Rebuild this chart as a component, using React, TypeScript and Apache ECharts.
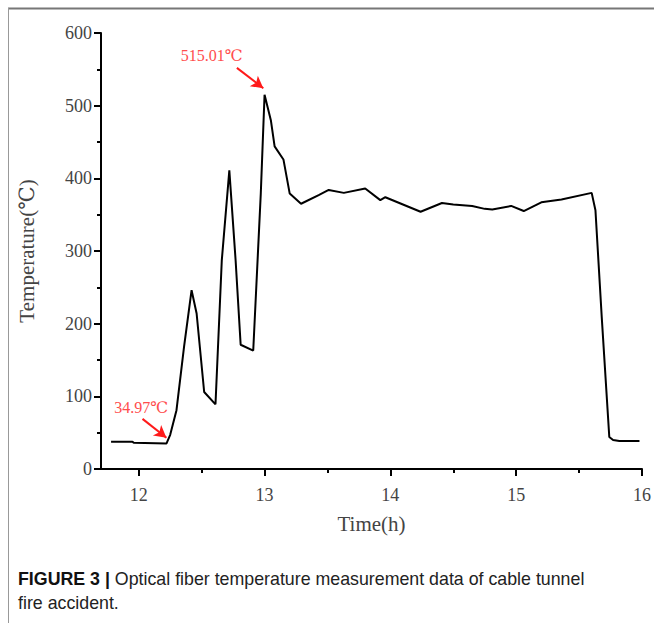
import React, { useEffect, useRef } from "react";
import * as echarts from "echarts";

const times = [11.78, 11.95, 11.96, 12.22, 12.25, 12.3, 12.36, 12.42, 12.46, 12.52, 12.61, 12.66, 12.72, 12.77, 12.81, 12.91, 12.97, 13.0, 13.05, 13.08, 13.15, 13.2, 13.29, 13.43, 13.51, 13.63, 13.8, 13.92, 13.96, 14.24, 14.41, 14.5, 14.65, 14.75, 14.81, 14.96, 15.06, 15.2, 15.36, 15.6, 15.63, 15.68, 15.74, 15.77, 15.82, 15.98];
const temps = [37.6, 37.5, 36, 34.97, 47, 81, 168, 246, 214, 106, 89, 287, 411, 287, 171, 163, 379, 515.01, 480, 444, 426, 379, 365, 377, 384, 380, 386, 370, 374, 354, 366, 364, 362, 358, 357, 362, 355, 367, 371, 380, 356, 209, 44, 40, 38.5, 38.5];

const xMajorTicks = [12, 13, 14, 15, 16];
const xMinorTicks = [12.5, 13.5, 14.5, 15.5];

const peakLabel = "515.01℃";
const lowLabel = "34.97℃";
const peakArrow = [[12.78, 552], [12.99, 524]];
const lowArrow = [[12.03, 69], [12.22, 43]];
const peakTextAt = [12.58, 569];
const lowTextAt = [12.02, 84];

const xName = "Time(h)";
const yName = "Temperature(℃)";
const captionBold = "FIGURE 3 |";
const captionLine1 = " Optical fiber temperature measurement data of cable tunnel";
const captionLine2 = "fire accident.";

export default function App() {
  const ref = useRef<HTMLDivElement>(null);
  useEffect(() => {
    if (!ref.current) return;
    const chart = echarts.init(ref.current, null, { renderer: "svg" });
    const serif = "'Liberation Serif', 'DejaVu Serif', serif";
    const sans = "'Liberation Sans', Arial, sans-serif";
    const data = times.map((t, i) => [t, temps[i]]);
    const red = "#ff1a1a";
    chart.setOption({
      animation: false,
      backgroundColor: "#ffffff",
      grid: { left: 101, right: 11, top: 33, bottom: 154, containLabel: false },
      xAxis: [
        {
          type: "value",
          min: 11.7,
          max: 16,
          position: "bottom",
          name: xName,
          nameLocation: "middle",
          nameGap: 44,
          nameTextStyle: { fontFamily: serif, fontSize: 21, color: "#444" },
          axisLine: { show: true, lineStyle: { color: "#000", width: 2 } },
          axisTick: { show: true, customValues: xMajorTicks, length: 7, lineStyle: { color: "#000", width: 2 } },
          axisLabel: { customValues: xMajorTicks, margin: 17, fontFamily: serif, fontSize: 18, color: "#444" },
          splitLine: { show: false },
        },
        {
          type: "value",
          min: 11.7,
          max: 16,
          position: "bottom",
          axisLine: { show: false },
          axisTick: { show: true, customValues: xMinorTicks, length: 4, lineStyle: { color: "#000", width: 2 } },
          axisLabel: { show: false },
          splitLine: { show: false },
        },
      ],
      yAxis: {
        type: "value",
        min: 0,
        max: 600,
        interval: 100,
        name: yName,
        nameLocation: "middle",
        nameGap: 64,
        nameTextStyle: { fontFamily: serif, fontSize: 21, color: "#444" },
        axisLine: { show: true, lineStyle: { color: "#000", width: 2 } },
        axisTick: { show: true, length: 7, lineStyle: { color: "#000", width: 2 } },
        minorTick: { show: true, splitNumber: 2, length: 4, lineStyle: { color: "#000", width: 2 } },
        axisLabel: { margin: 9, fontFamily: serif, fontSize: 18, color: "#444" },
        splitLine: { show: false },
      },
      series: [
        {
          type: "line",
          data,
          showSymbol: false,
          lineStyle: { color: "#000", width: 2 },
          itemStyle: { color: "#000" },
          markLine: {
            silent: true,
            symbol: ["none", "arrow"],
            symbolSize: [10, 12],
            label: { show: false },
            lineStyle: { color: red, width: 2, type: "solid" },
            data: [
              [{ coord: peakArrow[0] }, { coord: peakArrow[1] }],
              [{ coord: lowArrow[0] }, { coord: lowArrow[1] }],
            ],
          },
          markPoint: {
            silent: true,
            symbol: "circle",
            symbolSize: 1,
            itemStyle: { color: "rgba(0,0,0,0)" },
            label: {
              show: true,
              position: "inside",
              fontFamily: serif,
              fontSize: 16,
              color: "#ff4d4d",
              formatter: (p: any) => p.name,
            },
            data: [
              { name: peakLabel, coord: peakTextAt },
              { name: lowLabel, coord: lowTextAt },
            ],
          },
        },
      ],
      graphic: [
        { type: "line", shape: { x1: 8, y1: 8.5, x2: 654, y2: 8.5 }, style: { stroke: "#777", lineWidth: 2 } },
        { type: "line", shape: { x1: 8.5, y1: 8, x2: 8.5, y2: 623 }, style: { stroke: "#999", lineWidth: 1 } },
        {
          type: "text",
          left: 18,
          top: 570,
          style: {
            text: "{b|" + captionBold + "}" + captionLine1,
            font: "17.8px " + sans,
            fill: "#222",
            rich: {
              b: { fontWeight: "bold", fontSize: 17.8, fontFamily: sans, fill: "#111" },
            },
          },
        },
        {
          type: "text",
          left: 18,
          top: 594,
          style: {
            text: captionLine2,
            font: "17.8px " + sans,
            fill: "#222",
          },
        },
      ],
    });
    return () => chart.dispose();
  }, []);
  return (
    <div
      ref={ref}
      style={{ position: "absolute", left: 0, top: 0, width: 654, height: 623 }}
    />
  );
}
